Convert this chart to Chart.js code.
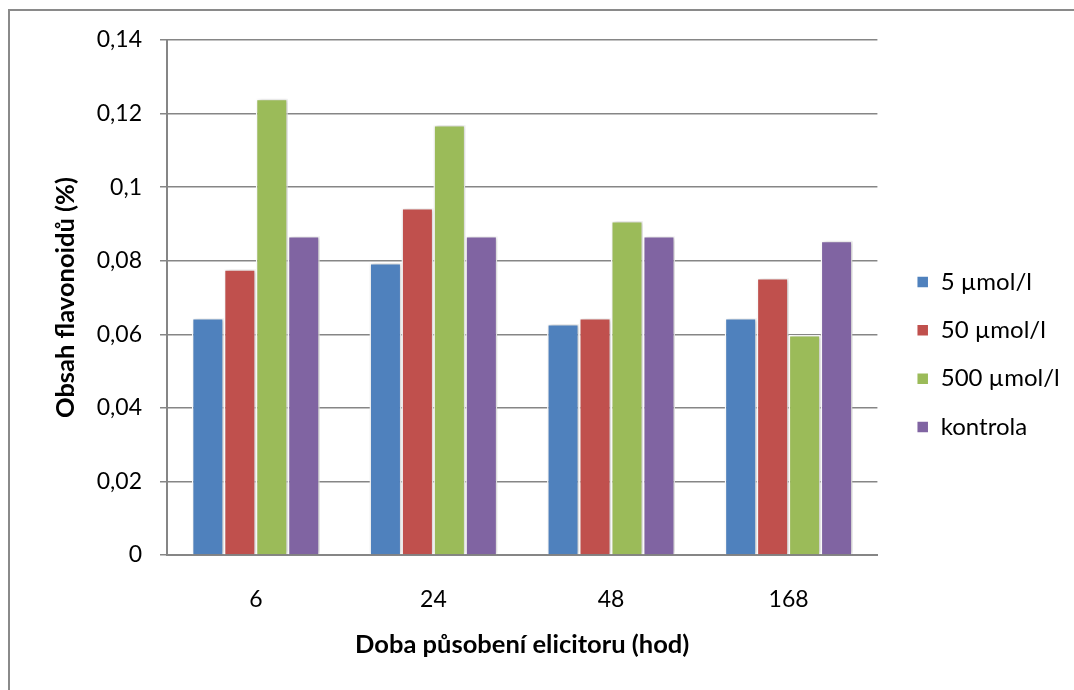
<!DOCTYPE html>
<html>
<head>
<meta charset="utf-8">
<script src="https://cdn.jsdelivr.net/npm/chart.js@4.4.1/dist/chart.umd.min.js"></script>
<style>
  html, body { margin: 0; padding: 0; background: #fff; overflow: hidden; }
  #wrap { position: relative; width: 1074px; height: 690px; }
  #frame {
    position: absolute; left: 8px; top: 9px; right: -10px; bottom: -10px;
    border-top: 2px solid #8a8a8a; border-left: 2px solid #8a8a8a;
    pointer-events: none;
  }
  canvas { display: block; }
</style>
</head>
<body>
<div id="wrap">
  <canvas id="chart" width="1074" height="690"></canvas>
  <div id="frame"></div>
</div>
<script>
// Exposure time of the elicitor (hours)
const categories = ['6', '24', '48', '168'];

// Flavonoid content (%) per elicitor concentration
const series5 = [0.0644, 0.0794, 0.0628, 0.0644];
const series50 = [0.0777, 0.0943, 0.0644, 0.0753];
const series500 = [0.1240, 0.1169, 0.0908, 0.0598];
const seriesControl = [0.0867, 0.0867, 0.0867, 0.0854];

const seriesNames = ['5 µmol/l', '50 µmol/l', '500 µmol/l', 'kontrola'];
const seriesColors = ['#4F81BD', '#C0504D', '#9BBB59', '#8064A2'];

// Y axis labels, Czech decimal comma
const yTickLabels = ['0', '0,02', '0,04', '0,06', '0,08', '0,1', '0,12', '0,14'];

const FONT = "Lato, 'Open Sans', 'Liberation Sans', sans-serif";
const GRID = '#868686';

// soft grey halo behind the bars
const barShadow = {
  id: 'barShadow',
  beforeDatasetsDraw(chart) {
    const ctx = chart.ctx;
    ctx.save();
    ctx.shadowColor = 'rgba(0,0,0,0.22)';
    ctx.shadowBlur = 4;
    ctx.shadowOffsetX = 1.5;
    ctx.shadowOffsetY = 0;
  },
  afterDatasetsDraw(chart) {
    chart.ctx.restore();
  }
};

const allSeries = [series5, series50, series500, seriesControl];

new Chart(document.getElementById('chart'), {
  type: 'bar',
  data: {
    labels: categories,
    datasets: allSeries.map((vals, i) => ({
      label: seriesNames[i],
      data: vals,
      backgroundColor: seriesColors[i],
      borderColor: '#ffffff',
      borderWidth: 1.5,
      borderSkipped: 'bottom',
      categoryPercentage: 0.72,
      barPercentage: 1.0
    }))
  },
  plugins: [barShadow],
  options: {
    responsive: false,
    animation: false,
    devicePixelRatio: 1,
    layout: { padding: { left: 42, right: 11.5, top: 40, bottom: 21 } },
    plugins: {
      tooltip: { enabled: false },
      legend: {
        position: 'right',
        labels: {
          boxWidth: 12,
          boxHeight: 12,
          padding: 24.3,
          color: '#000',
          font: { family: FONT, size: 24 }
        }
      }
    },
    scales: {
      x: {
        grid: { display: false, drawTicks: false },
        border: { display: true, color: GRID, width: 2 },
        ticks: { color: '#000', padding: 31, font: { family: FONT, size: 23 } },
        title: {
          display: true,
          text: 'Doba působení elicitoru (hod)',
          color: '#000',
          font: { family: FONT, size: 25.5, weight: 'bold' },
          padding: { top: 0, bottom: 9 }
        },
        afterFit: (scale) => { scale.height = 114; }
      },
      y: {
        min: 0,
        max: 0.14,
        ticks: {
          stepSize: 0.02,
          color: '#000',
          padding: 18,
          font: { family: FONT, size: 23 },
          callback: (v, i) => yTickLabels[i]
        },
        grid: { color: GRID, lineWidth: 1.5, tickLength: 7, drawTicks: true },
        border: { display: true, color: GRID, width: 2 },
        title: {
          display: true,
          text: 'Obsah flavonoidů (%)',
          color: '#000',
          font: { family: FONT, size: 25.5, weight: 'bold' },
          padding: { top: 8, bottom: 0 }
        },
        afterFit: (scale) => { scale.width = 125; }
      },
      gap: {
        position: 'right',
        display: true,
        grid: { display: false, drawTicks: false },
        border: { display: false },
        ticks: { display: false },
        afterFit: (scale) => { scale.width = 15; }
      }
    }
  }
});
</script>
</body>
</html>
